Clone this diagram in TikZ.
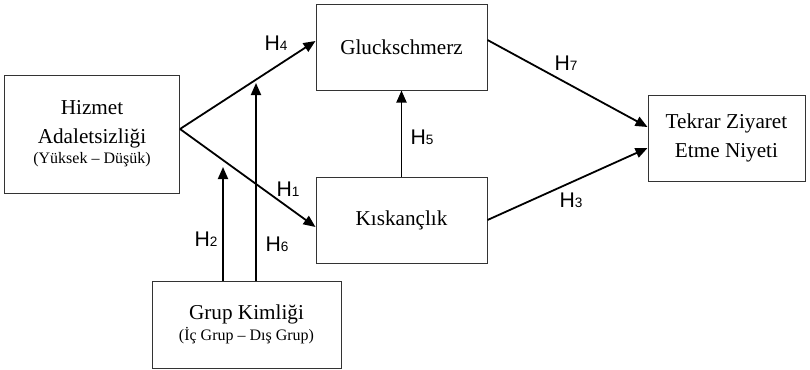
\documentclass[tikz,border=0pt]{standalone}
\usepackage{fontspec}
\setmainfont{Liberation Serif}
\setsansfont{Liberation Sans}
\usetikzlibrary{arrows.meta,positioning,calc}
\newcommand{\hyp}[1]{H{\fontsize{6.8}{7}\selectfont #1}}

\begin{document}
\begin{tikzpicture}[x=0.5pt,y=-0.5pt]
\tikzset{
    block/.style={draw=black!80, line width=0.5pt, align=center, inner sep=0pt,
        font=\fontsize{10.6}{14.5}\selectfont},
    link/.style={-{Triangle[length=6pt,width=5pt]}, line width=0.9pt},
    hlab/.style={font=\sffamily\fontsize{10.6}{12}\selectfont, inner sep=0pt}
}
\useasboundingbox (0,0) rectangle (810,370);
% boxes
\node[block, minimum width=87.5pt, minimum height=59pt] (hizmet) at (92,134)
    {Hizmet\\ Adaletsizliği\\[-4.5pt] {\fontsize{8}{10}\selectfont (Yüksek – Düşük)}};
\node[block, minimum width=85.5pt, minimum height=43pt] (gluck) at (401.5,47) {Gluckschmerz};
\node[block, minimum width=85.5pt, minimum height=43pt] (kiskanc) at (401.5,220) {Kıskançlık};
\node[block, minimum width=94.5pt, minimum height=43.5pt] (grup) at (246.5,324.5)
    {Grup Kimliği\\[-4pt] {\fontsize{8}{10}\selectfont (İç Grup – Dış Grup)}};
\node[block, minimum width=78.5pt, minimum height=43pt] (tekrar) at (726.5,138)
    {Tekrar Ziyaret\\ Etme Niyeti};
% ends
\coordinate (fork) at ([yshift=2.5pt]hizmet.east);
\coordinate (h2end) at (223,167);
\coordinate (h6end) at (256,83);
% arrows
\draw[link] (fork) -- ([yshift=3pt]gluck.west);
\draw[link] (fork) -- ([yshift=-3.5pt]kiskanc.west);
\draw[link] (kiskanc.north) -- (gluck.south);
\draw[link] ([yshift=3.5pt]gluck.east) -- ([yshift=5.5pt]tekrar.west);
\draw[link] (kiskanc.east) -- ([yshift=-5pt]tekrar.west);
\draw[link] (grup.north -| h2end) -- (h2end);
\draw[link] (grup.north -| h6end) -- (h6end);
% labels
\node[hlab] (l4) at (276,43) {\hyp{4}};
\node[hlab] (l1) at (288,189) {\hyp{1}};
\node[hlab] (l5) at (422,137) {\hyp{5}};
\node[hlab] (l7) at (566,63) {\hyp{7}};
\node[hlab] (l3) at (571,200) {\hyp{3}};
\node[hlab] (l2) at (206,239) {\hyp{2}};
\node[hlab] (l6) at (277,244) {\hyp{6}};
\end{tikzpicture}
\end{document}
